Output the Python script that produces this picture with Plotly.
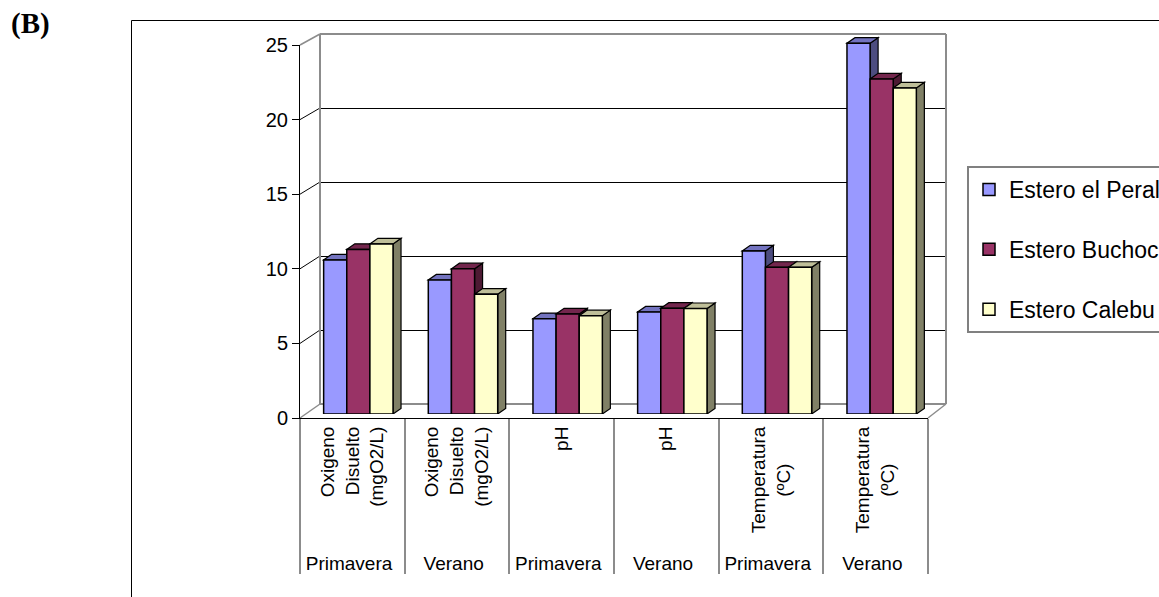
import plotly.graph_objects as go

# ---------------- data ----------------
seasons = ["Primavera", "Verano", "Primavera", "Verano", "Primavera", "Verano"]
params = ["Oxigeno<br>Disuelto<br>(mgO2/L)", "Oxigeno<br>Disuelto<br>(mgO2/L)",
          "pH", "pH",
          "Temperatura<br>(ºC)\u00a0\u00a0\u00a0\u00a0\u00a0\u00a0\u00a0",
          "Temperatura<br>(ºC)\u00a0\u00a0\u00a0\u00a0\u00a0\u00a0\u00a0"]
series_names = ["Estero el Peral", "Estero Buchoco", "Estero Calebu"]
peral = [10.35, 9.0, 6.4, 6.85, 10.95, 24.9]
buchoco = [11.05, 9.75, 6.72, 7.1, 9.85, 22.5]
calebu = [11.42, 8.05, 6.6, 7.08, 9.85, 21.9]
y_ticks = [0, 5, 10, 15, 20, 25]

# ---------------- style ----------------
W, H = 1159, 597
FONT = "Liberation Sans, Arial, sans-serif"
front_col = ["#9999FF", "#993366", "#FFFFCC"]
top_col = ["#7373BF", "#73264D", "#BFBF99"]
side_col = ["#4D4D80", "#4D1A33", "#808066"]
GRAY = "#8C8C8C"


def px(x):
    return x / W


def py(y):
    return 1 - y / H


# outer labels must be unique so multicategory keeps the order
outer = [s + "\u200b" * (i // 2) for i, s in enumerate(seasons)]
xcat = [outer, params]

fig = go.Figure()
all_vals = [peral, buchoco, calebu]
for name, vals, col in zip(series_names, all_vals, front_col):
    fig.add_trace(go.Bar(
        x=xcat, y=vals, name=name, xaxis="x", yaxis="y",
        marker=dict(color=col, line=dict(color="black", width=1.5)),
        legendgroup=name, hoverinfo="skip",
    ))

# dummy trace carrying the visible front axes / category table
fig.add_trace(go.Scatter(x=xcat, y=[None] * len(params), xaxis="x2", yaxis="y2",
                         mode="markers", showlegend=False, hoverinfo="skip"))

# ---------------- geometry of pseudo 3D ----------------
BAR_Y0 = 414.0      # px of bar base
BAR_SCALE = 14.89   # px per unit for bars
YMAX_BARS = 26
bargap = 0.337
w = (1 - bargap) / 3
cat_px = (934 - 306) / 6
dx = 8 / cat_px
dy = 5.6 / BAR_SCALE

shapes = []


def front_y(v):
    return 418 - v * (373 / 25)


def back_y(v):
    return 404 - v * (370 / 25)


# outer chart border
shapes.append(dict(type="rect", xref="paper", yref="paper", x0=px(131.5), x1=px(1200),
                   y0=py(20.5), y1=py(640), line=dict(color="black", width=1), layer="below"))
# back wall grid & edges
for v in y_ticks:
    edge = v in (y_ticks[0], y_ticks[-1])
    yb = back_y(v) + (0 if edge else 0.5)
    shapes.append(dict(type="line", xref="paper", yref="paper",
                       x0=px(320), x1=px(946), y0=py(yb), y1=py(yb),
                       line=dict(color=GRAY if edge else "black", width=2 if edge else 1),
                       layer="below"))
    shapes.append(dict(type="line", xref="paper", yref="paper",
                       x0=px(300), x1=px(320), y0=py(front_y(v)), y1=py(back_y(v)),
                       line=dict(color=GRAY if edge else "black", width=1.5 if edge else 1),
                       layer="below"))
for xw in (320, 946):
    shapes.append(dict(type="line", xref="paper", yref="paper", x0=px(xw), x1=px(xw),
                       y0=py(back_y(0)), y1=py(back_y(25)),
                       line=dict(color=GRAY, width=2), layer="below"))
shapes.append(dict(type="line", xref="paper", yref="paper", x0=px(928), x1=px(946),
                   y0=py(front_y(0)), y1=py(back_y(0)), line=dict(color=GRAY, width=1.5),
                   layer="below"))

# top and side faces of bars, from data
for j, vals in enumerate(all_vals):
    for i, v in enumerate(vals):
        x0 = i + (j - 1) * w - w / 2
        x1 = x0 + w
        top = f"M{x0},{v} L{x1},{v} L{x1 + dx},{v + dy} L{x0 + dx},{v + dy} Z"
        side = f"M{x1},0 L{x1 + dx},{dy} L{x1 + dx},{v + dy} L{x1},{v} Z"
        for pth, col in ((side, side_col[j]), (top, top_col[j])):
            shapes.append(dict(type="path", xref="x", yref="y", path=pth,
                               fillcolor=col, line=dict(color="black", width=1.2),
                               layer="below"))

fig.update_layout(
    width=W, height=H,
    margin=dict(l=0, r=0, t=0, b=0, autoexpand=False),
    paper_bgcolor="white", plot_bgcolor="rgba(0,0,0,0)",
    barmode="group", bargap=bargap, bargroupgap=0,
    font=dict(family=FONT, color="black"),
    showlegend=True,
    legend=dict(x=px(967), y=py(166), xanchor="left", yanchor="top",
                bordercolor="#808080", borderwidth=2, bgcolor="white",
                font=dict(family=FONT, size=23, color="black"),
                traceorder="grouped", tracegroupgap=27),
    xaxis=dict(domain=[px(306), px(934)], type="multicategory", range=[-0.5, 5.5],
               visible=False, anchor="y"),
    yaxis=dict(domain=[py(BAR_Y0), py(BAR_Y0 - YMAX_BARS * BAR_SCALE)],
               range=[0, YMAX_BARS], visible=False, anchor="x"),
    xaxis2=dict(domain=[px(300), px(928)], type="multicategory", range=[-0.5, 5.5],
                anchor="y2", showline=True, linecolor="black", linewidth=1,
                ticks="", showgrid=False, zeroline=False,
                showdividers=True, dividercolor=GRAY, dividerwidth=1.5,
                tickangle=-90, tickfont=dict(family=FONT, size=19, color="black")),
    yaxis2=dict(domain=[py(front_y(0)), py(front_y(25))], range=[0, 25], anchor="x2",
                tickvals=y_ticks, ticks="outside", ticklen=7, tickcolor="black",
                showline=True, linecolor="black", linewidth=1, showgrid=False,
                zeroline=False, tickfont=dict(family=FONT, size=20, color="black")),
    shapes=shapes,
    annotations=[dict(text="<b>(B)</b>", xref="paper", yref="paper", x=px(9), y=py(24),
                      xanchor="left", yanchor="middle", showarrow=False,
                      font=dict(family="Liberation Serif, Times New Roman, serif",
                                size=29, color="black"))],
)

fig.write_html("out.html")
